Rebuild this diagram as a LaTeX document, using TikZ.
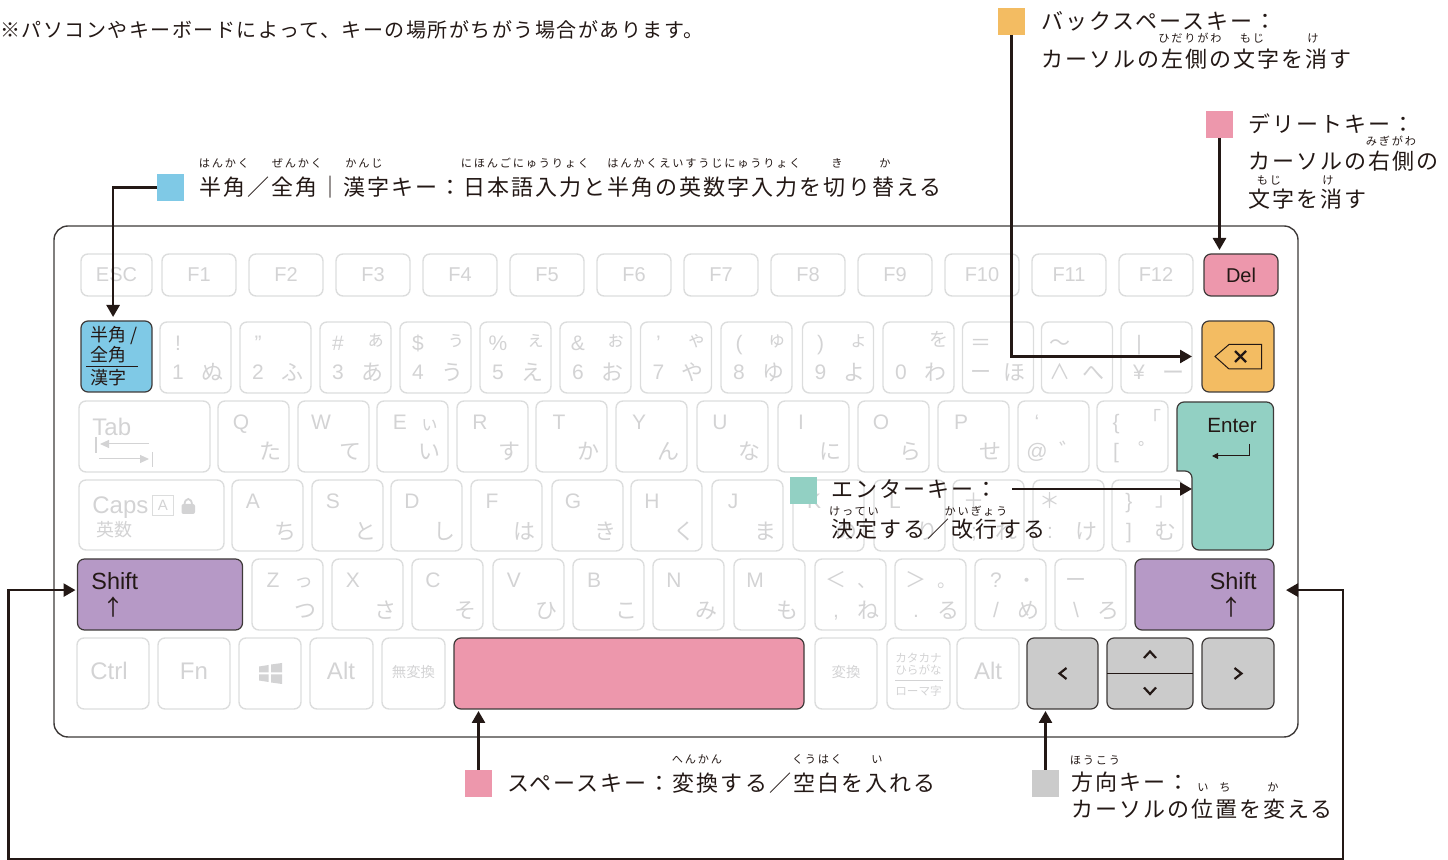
\documentclass[tikz,border=0pt]{standalone}
\usepackage{fontspec}
\setmainfont{Liberation Sans}
\newfontfamily\jpfont{Noto Sans CJK JP}
\newfontfamily\jpspaced[LetterSpace=9.2]{Noto Sans CJK JP}
\newfontfamily\jpnote[LetterSpace=7.5]{Noto Sans CJK JP}
\newfontfamily\jpruby[LetterSpace=16]{Noto Sans CJK JP}
\usetikzlibrary{arrows.meta,calc}
\definecolor{ink}{HTML}{231815}
\definecolor{keyedge}{HTML}{3E3A39}
\definecolor{faintline}{HTML}{DCDDDD}
\definecolor{faint}{HTML}{D3D3D4}
\definecolor{keyblue}{HTML}{7FC9E6}
\definecolor{keyorange}{HTML}{F3BC62}
\definecolor{keypink}{HTML}{ED97AC}
\definecolor{keyteal}{HTML}{92D0C3}
\definecolor{keypurple}{HTML}{B699C6}
\definecolor{keygray}{HTML}{CBCBCB}
\tikzset{
  keysize/.style 2 args = {minimum width=#1*0.5pt, minimum height=#2*0.5pt},
  lightkey/.style = {
    draw=faintline, line width=0.7pt, rounded corners=3.5pt, inner sep=0pt, outer sep=0pt,
    anchor=north west, keysize={71}{71}, text=faint
  },
  hotkey/.style = {
    draw=keyedge, line width=0.6pt, rounded corners=3.5pt, inner sep=0pt, outer sep=0pt,
    anchor=north west, fill=#1, text=ink
  },
  swatch/.style = {fill=#1, inner sep=0pt, outer sep=0pt, minimum size=13.5pt, anchor=north west},
  callout/.style = {draw=ink, line width=1.3pt, -{Triangle[length=6pt,width=6.5pt]}},
  caption/.style = {
    font=\jpspaced\fontsize{11}{12}\selectfont, text=ink, inner sep=0pt,
    anchor=west, text height=9.68pt, text depth=1.32pt
  },
  ruby/.style = {
    font=\jpruby\fontsize{5.6}{7}\selectfont, text=ink, inner sep=0pt,
    text height=4.93pt, text depth=0.67pt
  },
  facelatin/.style = {
    font=\fontsize{10.5}{12}\selectfont, text=faint, inner sep=0pt,
    text height=7.56pt, text depth=0pt
  },
  facekana/.style = {
    font=\jpfont\fontsize{11}{12}\selectfont, text=faint, inner sep=0pt,
    text height=9.68pt, text depth=1.32pt
  },
  facesmall/.style = {
    font=\jpfont\fontsize{9.5}{12}\selectfont, text=faint, inner sep=0pt,
    text height=8.36pt, text depth=1.14pt
  },
  facebig/.style = {
    font=\fontsize{12}{14}\selectfont, text=faint, inner sep=0pt,
    text height=8.6pt, text depth=0pt
  },
  facejp/.style = {font=\jpfont\fontsize{#1}{#1}\selectfont, text=faint, inner sep=0pt},
  hotlabel/.style = {font=\fontsize{#1}{#1}\selectfont, text=ink, inner sep=0pt},
  hotarrow/.style = {font=\jpfont\fontsize{11}{11}\selectfont, text=ink, inner sep=0pt},
  hotjp/.style = {font=\jpfont\fontsize{9}{10}\selectfont, text=ink, inner sep=0pt, anchor=west}
}
\newcommand{\keytext}[4]{%
  \if\relax\detokenize\expandafter{#4}\relax\else
    \node[#3] (#1) at (#2) {#4};
  \fi}
\newcommand{\jiskey}[6]{%
  \node[lightkey] (#1) at (#2,\rowtop) {};
  \keytext{#1-tl}{#2+\latindx,\rowtop+\topdy}{facelatin}{#3}
  \keytext{#1-tr}{#2+\smalldx,\rowtop+\smalldy}{facesmall}{#4}
  \keytext{#1-bl}{#2+\latindx,\rowtop+\botdy}{facelatin}{#5}
  \keytext{#1-br}{#2+\kanadx,\rowtop+\botdy}{facekana}{#6}}
\begin{document}
\begin{tikzpicture}[x=0.5pt,y=-0.5pt]
  \useasboundingbox (0,0) rectangle (1448,860);
  \node[draw=keyedge, line width=0.7pt, rounded corners=7pt, inner sep=0pt, outer sep=0pt, anchor=north west,
        keysize={1244}{511}] (keyboard) at (54,226) {};

  \node[caption, font=\jpnote\fontsize{10}{12}\selectfont, text height=8.36pt, text depth=1.14pt]
    (topnote) at (0,30) {※パソコンやキーボードによって、キーの場所がちがう場合があります。};

  \node[lightkey, keysize={71}{42}, font=\fontsize{10}{12}\selectfont] (keyEsc) at (81,254) {ESC};
  \foreach \kx/\ktxt [count=\i] in {162/F1,249/F2,336/F3,423/F4,510/F5,597/F6,684/F7,771/F8,858/F9,945/F10,1032/F11,1119/F12}
    \node[lightkey, keysize={74}{42}, font=\fontsize{10}{12}\selectfont] (fkey\i) at (\kx,254) {\ktxt};
  \node[hotkey=keypink, keysize={74}{42}, font=\fontsize{10}{12}\selectfont] (keyDel) at (1204,254) {Del};

  \def\rowtop{322}\def\latindx{18}\def\kanadx{52}\def\topdy{21}\def\botdy{50}\def\smalldx{56}\def\smalldy{17}
  \foreach \kx/\kA/\kB/\kC/\kD [count=\i] in {160/!//1/ぬ,240/"//2/ふ,320/\#/ぁ/3/あ,400/\$/ぅ/4/う,480/\%/ぇ/5/え,560/\&/ぉ/6/お,640.5/'/ゃ/7/や,721/(/ゅ/8/ゆ,802.5/)/ょ/9/よ,883//を/0/わ,962.5/{\jpfont ＝}//{\jpfont ー}/ほ,1041.5/{\jpfont ～}//{\jpfont ∧}/へ,1121/|//¥/ー}
    {\jiskey{numkey\i}{\kx}{\kA}{\kB}{\kC}{\kD}}

  \node[hotkey=keyblue, keysize={71}{71}] (keyHan) at (81,321) {};
  \node[hotjp] (keyHan1) at (90,336) {半角 /};
  \node[hotjp] (keyHan2) at (90,355) {全角};
  \draw[ink, line width=0.5pt] (86,367) -- (138,367);
  \node[hotjp] (keyHan3) at (90,378) {漢字};

  \node[hotkey=keyorange, keysize={72}{71}] (keyBack) at (1202,321) {};
  \draw[ink, line width=0.5pt] (1215,356.5) -- (1229,344.5) -- (1261.5,344.5) -- (1261.5,369) -- (1229,369) -- cycle;
  \draw[ink, line width=1.2pt] (1235,351) -- (1246,362) (1246,351) -- (1235,362);

  \node[lightkey, keysize={131}{71}] (keyTab) at (79,401) {};
  \node[facebig, anchor=west] (keyTabText) at (92,427) {Tab};
  \draw[faint, line width=0.7pt] (96,437) -- (96,453) (152.7,452) -- (152.7,467.5);
  \draw[faint, line width=0.5pt, -{Triangle[length=4.5pt,width=4pt]}] (149,444) -- (100,444);
  \draw[faint, line width=0.5pt, -{Triangle[length=4.5pt,width=4pt]}] (99,459) -- (149,459);

  \def\rowtop{401}\def\latindx{23}\def\smalldx{53}\def\smalldy{22}
  \foreach \kx/\kA/\kB/\kC/\kD [count=\i] in {218/Q///た,298/W///て,377/E/ぃ//い,457/R///す,536/T///か,616/Y///ん,697/U///な,778/I///に,858/O///ら,938/P///せ}
    {\jiskey{tabkey\i}{\kx}{\kA}{\kB}{\kC}{\kD}}
  \def\latindx{19}\def\smalldx{55}\def\smalldy{17}
  \foreach \kx/\kA/\kB/\kC/\kD [count=\i] in {1018/`//@/゛,1097/\{/「/[/゜}
    {\jiskey{markkey\i}{\kx}{\kA}{\kB}{\kC}{\kD}}

  \draw[hotkey=keyteal] (1177,402) -- (1273.5,402) -- (1273.5,550) -- (1192,550) -- (1192,471) [sharp corners] -- (1177,471) [rounded corners=3.5pt] -- cycle;
  \coordinate (keyEnter) at (1192,489);
  \node[hotlabel=10.3] (keyEnterText) at (1232,426) {Enter};
  \draw[ink, line width=0.5pt, -{Triangle[length=3pt,width=3pt]}] (1249,444) |- (1212,456);

  \node[lightkey, keysize={145}{70}] (keyCaps) at (79,480) {};
  \node[facebig, anchor=west] (keyCapsText) at (92,505) {Caps};
  \node[draw=faintline, line width=0.5pt, inner sep=0pt, keysize={21}{20}, anchor=north west,
        font=\fontsize{7.5}{8}\selectfont, text=faint] (keyCapsBox) at (152,495) {A};
  \fill[faint, rounded corners=1pt] (181.5,504) rectangle (195,514);
  \draw[faint, line width=0.9pt] (184.5,505) .. controls (184.5,497) and (192,497) .. (192,505);
  \node[facejp=9, anchor=west] (keyCapsEisu) at (96,530) {英数};

  \def\rowtop{480}\def\latindx{21}\def\kanadx{53}\def\topdy{21}\def\botdy{51}
  \foreach \kx/\kA/\kB/\kC/\kD [count=\i] in {232/A///ち,312/S///と,391/D///し,471/F///は,552/G///き,631/H///く,712/J///ま,793/K///の,874/L///り,953/{\jpfont ＋}//;/れ}
    {\jiskey{capkey\i}{\kx}{\kA}{\kB}{\kC}{\kD}}
  \def\latindx{17}\def\smalldx{53}\def\smalldy{19}
  \foreach \kx/\kA/\kB/\kC/\kD [count=\i] in {1033/{\jpfont ＊}//:/け,1112/\}/」/]/む}
    {\jiskey{signkey\i}{\kx}{\kA}{\kB}{\kC}{\kD}}

  \node[hotkey=keypurple, keysize={165}{71}] (keyShiftL) at (77.5,559) {};
  \node[hotlabel=11.7, anchor=west] (keyShiftLText) at (91,581) {Shift};
  \node[hotarrow] (keyShiftLUp) at (113,607) {↑};

  \def\rowtop{559}\def\latindx{21}\def\smalldx{52}\def\smalldy{21}
  \foreach \kx/\kA/\kB/\kC/\kD [count=\i] in {252/Z/っ//つ,332/X///さ,412/C///そ,493/V///ひ,573/B///こ,653/N///み,734/M///も,815/{\jpfont ＜}/、/{,}/ね,895/{\jpfont ＞}/。/./る,975/?/・/{/}/め,1055/{\jpfont ー}//\textbackslash/ろ}
    {\jiskey{shiftkey\i}{\kx}{\kA}{\kB}{\kC}{\kD}}

  \node[hotkey=keypurple, keysize={139}{71}] (keyShiftR) at (1135,559) {};
  \node[hotlabel=11.7, anchor=east] (keyShiftRText) at (1257,581) {Shift};
  \node[hotarrow] (keyShiftRUp) at (1231,607) {↑};

  \foreach \kx/\kw/\lx/\ktxt [count=\i] in {77/72/109/Ctrl,158/72/194/Fn,310/63/341/Alt,957/62/988/Alt}
  {
    \node[lightkey, keysize={\kw}{71}] (botkey\i) at (\kx,638) {};
    \node[facebig] (botkey\i-text) at (\lx,671) {\ktxt};
  }
  \node[lightkey, keysize={62}{71}] (keyWin) at (239,638) {};
  \fill[faint] (259,666.5) -- (268.5,665) -- (268.5,672.5) -- (259,672.5) -- cycle
    (271,664.5) -- (282,663) -- (282,672.5) -- (271,672.5) -- cycle
    (259,674.5) -- (268.5,674.5) -- (268.5,682) -- (259,680.5) -- cycle
    (271,674.5) -- (282,674.5) -- (282,684) -- (271,682.5) -- cycle;
  \node[lightkey, keysize={63}{71}] (keyMuhen) at (382,638) {};
  \node[facejp=7.2] (keyMuhenText) at (413.5,672) {無変換};
  \node[lightkey, keysize={62}{71}] (keyHenkan) at (815,638) {};
  \node[facejp=7.2] (keyHenkanText) at (846,672) {変換};
  \node[lightkey, keysize={63}{71}] (keyKana) at (887,638) {};
  \node[facejp=5.8] (keyKana1) at (918.5,658) {カタカナ};
  \node[facejp=5.8] (keyKana2) at (918.5,670) {ひらがな};
  \draw[faint, line width=0.5pt] (895,680.5) -- (942.5,680.5);
  \node[facejp=5.8] (keyKana3) at (918.5,691) {ローマ字};

  \node[hotkey=keypink, keysize={350}{71}] (keySpace) at (454,638) {};
  \node[hotkey=keygray, keysize={71}{71}] (keyLeft) at (1027,638) {};
  \node[hotkey=keygray, keysize={86}{71}] (keyUpDown) at (1107,638) {};
  \node[hotkey=keygray, keysize={72}{71}] (keyRight) at (1202,638) {};
  \draw[ink, line width=0.5pt] (keyUpDown.west) -- (keyUpDown.east);
  \draw[ink, line width=1.1pt] (1066.5,668) -- (1059.5,673.5) -- (1066.5,679)
    (1234.5,668) -- (1241.5,673.5) -- (1234.5,679)
    (1144,658) -- (1150,651.5) -- (1156,658)
    (1144,687.5) -- (1150,694) -- (1156,687.5);

  \node[swatch=keyblue] (swHan) at (157,174) {};
  \node[caption] (capHan) at (199,187) {半角／全角｜漢字キー：日本語入力と半角の英数字入力を切り替える};
  \foreach \kx/\ktxt [count=\i] in {224/はんかく,297/ぜんかく,364/かんじ,525/にほんごにゅうりょく,704/はんかくえいすうじにゅうりょく,837/き,885/か}
    \node[ruby] (rubyHan\i) at (\kx,163) {\ktxt};

  \node[swatch=keyorange] (swBack) at (998,8) {};
  \node[caption] (capBack1) at (1041,21) {バックスペースキー：};
  \node[caption] (capBack2) at (1041,59) {カーソルの左側の文字を消す};
  \foreach \kx/\ktxt [count=\i] in {1190/ひだりがわ,1252/もじ,1313/け}
    \node[ruby] (rubyBack\i) at (\kx,38) {\ktxt};

  \node[swatch=keypink] (swDel) at (1206,111) {};
  \node[caption] (capDel1) at (1248,124) {デリートキー：};
  \node[caption] (capDel2) at (1248,161) {カーソルの右側の};
  \node[caption] (capDel3) at (1248,199) {文字を消す};
  \node[ruby] (rubyDel1) at (1391,141) {みぎがわ};
  \node[ruby] (rubyDel2) at (1269,180) {もじ};
  \node[ruby] (rubyDel3) at (1328,180) {け};

  \node[swatch=keyteal] (swEnter) at (790,477) {};
  \node[caption] (capEnter1) at (831,489) {エンターキー：};
  \node[caption] (capEnter2) at (831,529) {決定する／改行する};
  \node[ruby] (rubyEnter1) at (854,511) {けってい};
  \node[ruby] (rubyEnter2) at (976,511) {かいぎょう};
  \coordinate (enterFrom) at (1012,489);

  \node[swatch=keypink] (swSpace) at (465,770) {};
  \node[caption] (capSpace) at (507,783) {スペースキー：変換する／空白を入れる};
  \foreach \kx/\ktxt [count=\i] in {697/へんかん,817/くうはく,877/い}
    \node[ruby] (rubySpace\i) at (\kx,759) {\ktxt};

  \node[swatch=keygray] (swArrow) at (1032,770) {};
  \node[caption] (capArrow1) at (1071,782) {方向キー：};
  \node[caption] (capArrow2) at (1071,809) {カーソルの位置を変える};
  \node[ruby] (rubyArrow1) at (1095,760) {ほうこう};
  \node[ruby] (rubyArrow2) at (1203,787) {い};
  \node[ruby] (rubyArrow3) at (1225,787) {ち};
  \node[ruby] (rubyArrow4) at (1273,787) {か};

  \coordinate (loopLeft) at (8.5,859);
  \coordinate (loopRight) at (1343,859);

  \draw[callout, shorten >=2pt] (swHan.west) -| ([xshift=-1.7pt]keyHan.north);
  \draw[callout, shorten >=5pt] (swBack.south) |- (keyBack.west);
  \draw[callout, shorten >=2pt] (swDel.south) -- (swDel.south |- keyDel.north);
  \draw[callout] (enterFrom) -- (keyEnter);
  \draw[callout, shorten >=1pt] (swSpace.north) -- (swSpace.north |- keySpace.south);
  \draw[callout, shorten >=1pt] (swArrow.north) -- (swArrow.north |- keyLeft.south);
  \draw[callout, {Triangle[length=6pt,width=6.5pt]}-{Triangle[length=6pt,width=6.5pt]}, shorten <=1pt, shorten >=6pt]
    ([yshift=2.2pt]keyShiftL.west) -| (loopLeft) -- (loopRight) |- ([yshift=2.2pt]keyShiftR.east);
\end{tikzpicture}
\end{document}
